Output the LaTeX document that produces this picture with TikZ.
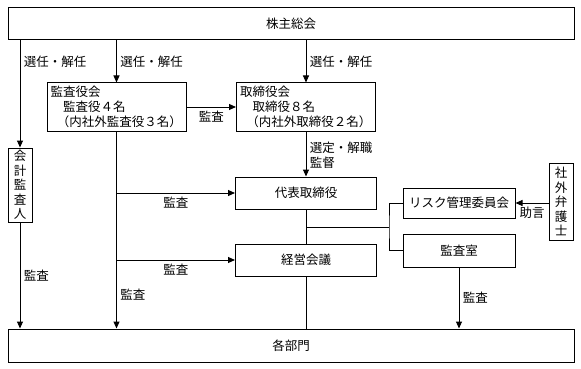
\documentclass[tikz,border=0pt]{standalone}
\usepackage{fontspec}
\setmainfont{Noto Sans CJK JP}
\usetikzlibrary{arrows.meta,positioning}

\begin{document}
\begin{tikzpicture}[x=1pt,y=-1pt,font=\fontsize{12.5}{15}\selectfont,>={Triangle[length=7pt,width=6pt]},
  box/.style={draw,line width=1pt,inner sep=0pt},
  tallbox/.style={box,minimum width=24pt,align=center,font=\fontsize{12.5}{14.5}\selectfont},
  board/.style={box,minimum width=139pt,minimum height=48pt,text width=132pt,inner xsep=3.5pt,align=left},
  link/.style={line width=1pt}]
\useasboundingbox (0,0) rectangle (581,369);
% boxes
\node[box,minimum width=566pt,minimum height=32pt] (soukai) at (291,24) {株主総会};
\node[board] (kansayaku) at (116.5,107) {監査役会\\\hspace*{1em}監査役４名\\\hspace*{.5em}（内社外監査役３名）};
\node[board] (torishimari) at (306,107) {取締役会\\\hspace*{1em}取締役８名\\\hspace*{.5em}（内社外取締役２名）};
\node[tallbox,minimum height=74pt] (kaikei) at (20,185) {会\\計\\監\\査\\人};
\node[box,minimum width=141pt,minimum height=32pt] (daihyo) at (306,193) {代表取締役};
\node[box,minimum width=141pt,minimum height=32pt] (keiei) at (306,260) {経営会議};
\node[box,minimum width=112pt,minimum height=30pt] (risk) at (459,203) {リスク管理委員会};
\node[box,minimum width=112pt,minimum height=33pt] (kansashitsu) at (459,250.5) {監査室};
\node[tallbox,minimum height=77pt] (bengoshi) at (561,201.5) {社\\外\\弁\\護\\士};
\node[box,minimum width=566pt,minimum height=33pt] (bumon) at (291,345.5) {各部門};
\coordinate (jn) at (389,227);
% connectors
\draw[link,->] (soukai.south -| kaikei.north) -- node[right,pos=.2]{選任・解任} (kaikei.north);
\draw[link,->] (soukai.south -| kansayaku.north) -- node[right]{選任・解任} (kansayaku.north);
\draw[link,->] (soukai.south -| torishimari.north) -- node[right]{選任・解任} (torishimari.north);
\draw[link,->] (kansayaku) -- node[below]{監査} (torishimari);
\draw[link,->] (torishimari) -- node[right,align=left,pos=.52]{選定・解職\\監督} (daihyo);
\draw[link,->] (kansayaku.south) -- node[right,pos=.83]{監査} (kansayaku.south |- bumon.north);
\draw[link,->] (kansayaku.south |- daihyo.west) -- node[below]{監査} (daihyo.west);
\draw[link,->] (kansayaku.south |- keiei.west) -- node[below]{監査} (keiei.west);
\draw[link,->] (kaikei.south) -- node[right]{監査} (kaikei.south |- bumon.north);
\draw[link] (daihyo) -- (keiei);
\draw[link] (keiei.south) -- (keiei.south |- bumon.north);
\draw[link] (daihyo.south |- jn) -- (jn);
\draw[link] (risk.west) -| (jn) |- (kansashitsu.west);
\draw[link,->] (bengoshi.west |- risk.east) -- node[below]{助言} (risk.east);
\draw[link,->] (kansashitsu.south) -- node[right]{監査} (kansashitsu.south |- bumon.north);
\end{tikzpicture}
\end{document}
